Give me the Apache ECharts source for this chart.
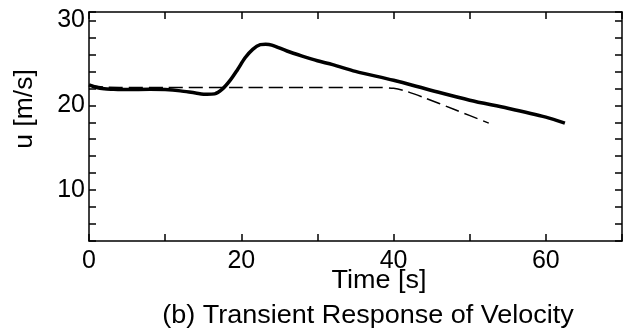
<!doctype html>
<html>
<head>
    <meta charset="utf-8">
    <title>Transient Response of Velocity</title>
    <style>
        html, body { margin: 0; padding: 0; background: #fff; }
        #chart { width: 625px; height: 333px; }
    </style>
</head>
<body>
<div id="chart"></div>
<script src="https://cdn.jsdelivr.net/npm/echarts@6/dist/echarts.min.js"></script>
<script>
    // solid line (u vs time)
    var solidT = [0, 1, 2, 3, 5, 8, 10, 12, 14, 15.5, 16.5, 17.5, 18.5, 19.5, 20.5, 21.5, 22.5, 23.2, 24, 26, 28, 30, 32, 35, 40, 45, 50, 55, 60, 62.5];
    var solidU = [22.4, 22.1, 21.95, 21.9, 21.85, 21.9, 21.85, 21.7, 21.45, 21.3, 21.35, 21.9, 22.9, 24.2, 25.6, 26.6, 27.15, 27.2, 27.1, 26.4, 25.8, 25.25, 24.8, 24.0, 22.95, 21.75, 20.6, 19.65, 18.6, 17.9];
    // dashed line
    var dashT = [0, 2, 4, 10, 20, 30, 38, 40, 41.5, 44, 48, 52.5];
    var dashU = [22.4, 22.15, 22.1, 22.1, 22.1, 22.1, 22.1, 22.0, 21.7, 20.9, 19.5, 17.9];

    var xTicks = [0, 20, 40, 60];
    var yTicks = [10, 20, 30];

    function pairs(a, b) {
        var out = [];
        for (var i = 0; i < a.length; i++) out.push([a[i], b[i]]);
        return out;
    }

    var font = '"Liberation Sans", Arial, Helvetica, sans-serif';
    var chart = echarts.init(document.getElementById('chart'));

    var tickCommon = { show: true, inside: true, length: 7, lineStyle: { color: '#000', width: 1.5 } };
    var lineCommon = { show: true, onZero: false, lineStyle: { color: '#000', width: 1.5 } };

    var option = {
        animation: false,
        grid: { left: 89, right: 2, top: 12, bottom: 92 },
        xAxis: [{
            type: 'value', min: 0, max: 70, interval: 10,
            axisLine: lineCommon, axisTick: tickCommon, splitLine: { show: false },
            axisLabel: {
                color: '#000', fontSize: 25, fontFamily: font, margin: 8,
                formatter: function (v) { return xTicks.indexOf(v) >= 0 ? String(v) : ''; }
            }
        }, {
            type: 'value', position: 'top', min: 0, max: 70, interval: 10,
            axisLine: lineCommon, axisTick: tickCommon, splitLine: { show: false },
            axisLabel: { show: false }
        }],
        yAxis: [{
            type: 'value', min: 4, max: 31, interval: 2,
            axisLine: lineCommon, axisTick: tickCommon, splitLine: { show: false },
            axisLabel: {
                color: '#000', fontSize: 25, fontFamily: font, margin: 4,
                formatter: function (v) { return yTicks.indexOf(v) >= 0 ? String(v) : ''; }
            }
        }, {
            type: 'value', position: 'right', min: 4, max: 31, interval: 2,
            axisLine: lineCommon, axisTick: tickCommon, splitLine: { show: false },
            axisLabel: { show: false }
        }],
        graphic: [
            { type: 'text', x: 25, y: 109, rotation: Math.PI / 2, scaleX: 1.06,
              style: { text: 'u [m/s]', font: '25px ' + font, fill: '#000', align: 'center', verticalAlign: 'middle' } },
            { type: 'text', x: 379, y: 281, scaleX: 1.08,
              style: { text: 'Time [s]', font: '25px ' + font, fill: '#000', align: 'center', verticalAlign: 'middle' } },
            { type: 'text', x: 368, y: 316, scaleX: 1.08,
              style: { text: '(b) Transient Response of Velocity', font: '25px ' + font, fill: '#000', align: 'center', verticalAlign: 'middle' } }
        ],
        series: [{
            type: 'line', data: pairs(solidT, solidU), showSymbol: false,
            smooth: 0.3,
            lineStyle: { color: '#000', width: 3.5 }
        }, {
            type: 'line', data: pairs(dashT, dashU), showSymbol: false,
            smooth: 0.3,
            lineStyle: { color: '#000', width: 1.5, type: [14, 6] }
        }]
    };
    chart.setOption(option);
</script>
</body>
</html>
